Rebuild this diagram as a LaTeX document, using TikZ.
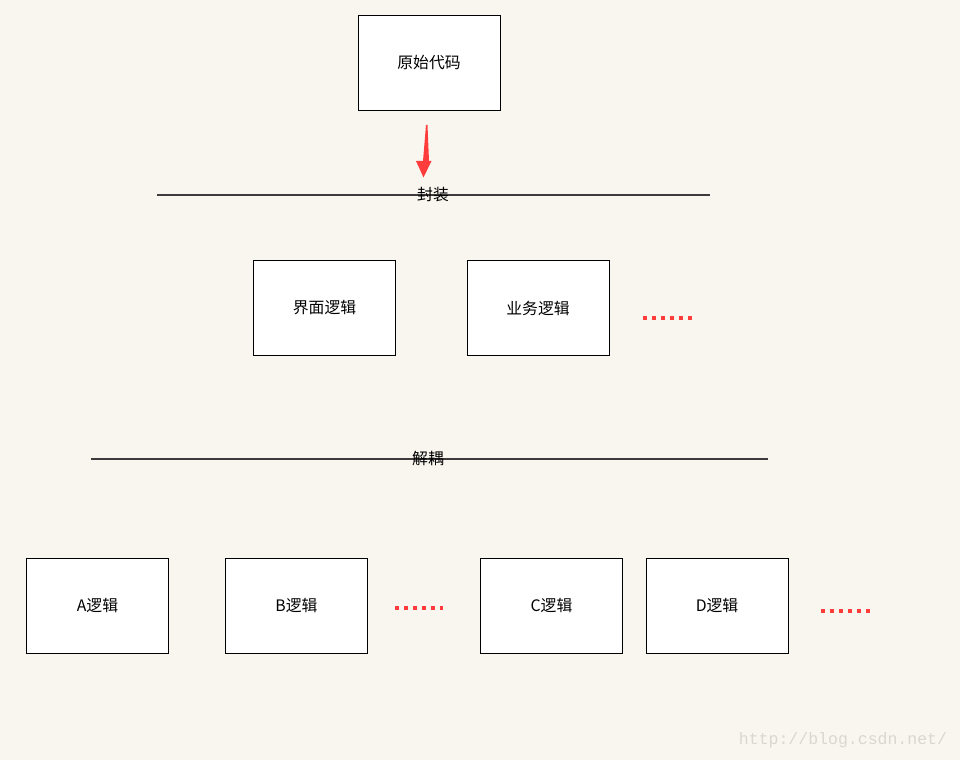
\documentclass[tikz,border=0pt]{standalone}
\usepackage{fontspec}
\newfontfamily\cjk{Noto Sans CJK SC}
\newfontfamily\wmfont{Liberation Mono}
\definecolor{paper}{RGB}{249,246,240}
\definecolor{arrowred}{RGB}{255,60,60}
\definecolor{rulegray}{RGB}{60,60,60}
\definecolor{wmgray}{RGB}{218,214,208}
\tikzset{
  codebox/.style={draw=black,fill=white,line width=0.55pt,minimum width=2.84cm,minimum height=1.9cm,font=\cjk\fontsize{9}{11}\selectfont},
  cutline/.style={draw=rulegray,line width=0.6pt},
  cutlabel/.style={font=\cjk\fontsize{9}{11}\selectfont,inner sep=0pt},
  dotrow/.style={draw=arrowred,line width=2.1pt,dash pattern=on 2.1pt off 3pt}
}
\begin{document}
\begin{tikzpicture}[x=0.02cm,y=-0.02cm]
        %% Background
        \fill[paper] (0,0) rectangle (960,760);
        \useasboundingbox (0,0) rectangle (960,760);
        %% Original code
        \node[codebox] (orig) at (429,62.5) {原始代码};
        \fill[arrowred] (426,125) -- (427.5,125) -- (429,161) -- (431.5,161) -- (423.5,177.5) -- (416,161) -- (423,161) -- cycle;
        %% Encapsulation
        \coordinate (encL) at (157,195);
        \coordinate (encR) at (710,195);
        \draw[cutline] (encL) -- (encR);
        \node[cutlabel] (enc) at (433,195) {封装};
        \node[codebox] (ui) at (324.5,308) {界面逻辑};
        \node[codebox] (biz) at (538,308) {业务逻辑};
        \draw[dotrow] (643,318) -- (694,318);
        %% Decoupling
        \coordinate (decL) at (91,459);
        \coordinate (decR) at (768,459);
        \draw[cutline] (decL) -- (decR);
        \node[cutlabel] (dec) at (428,459) {解耦};
        \node[codebox] (logA) at (97.5,605.5) {A逻辑};
        \node[codebox] (logB) at (296.5,605.5) {B逻辑};
        \draw[dotrow] (395,608) -- (446,608);
        \node[codebox] (logC) at (551.5,605.5) {C逻辑};
        \node[codebox] (logD) at (717,605.5) {D逻辑};
        \draw[dotrow] (821,611) -- (872,611);
        %% Watermark
        \node[font=\wmfont\fontsize{9.4}{11}\selectfont,text=wmgray,inner sep=0pt] (mark) at (843,740) {http://blog.csdn.net/};
\end{tikzpicture}
\end{document}
